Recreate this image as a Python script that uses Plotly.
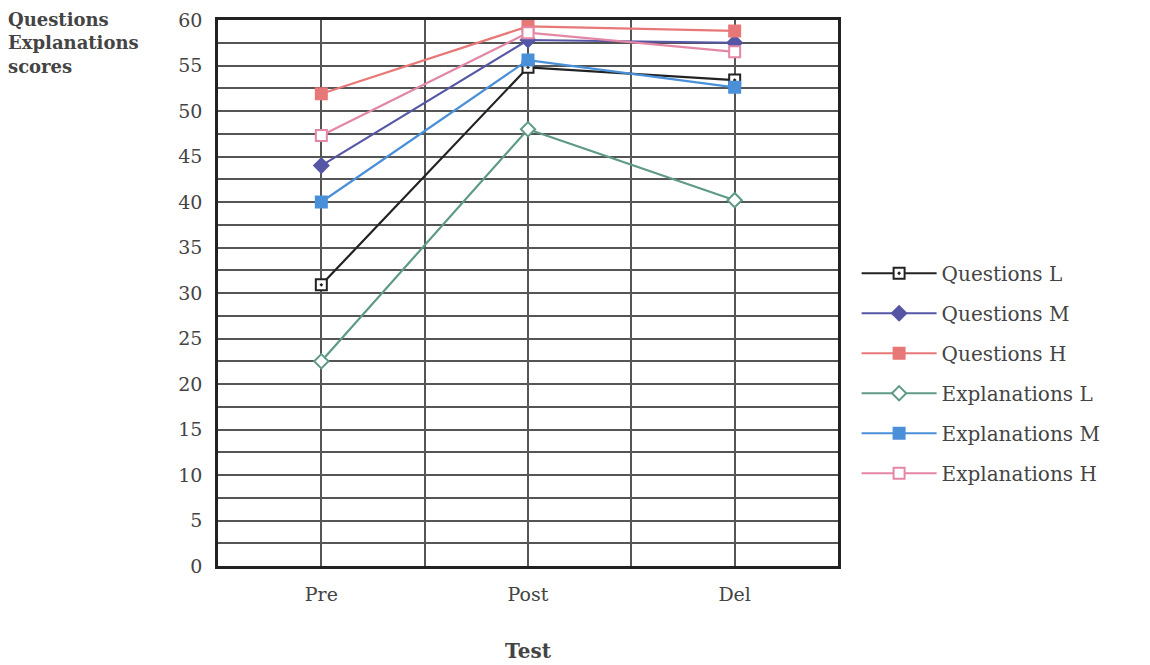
import plotly.graph_objects as go

tests = ["Pre", "Post", "Del"]
series_names = ["Questions L", "Questions M", "Questions H",
                "Explanations L", "Explanations M", "Explanations H"]
questions_l = [30.9, 54.8, 53.4]
questions_m = [44.0, 57.8, 57.5]
questions_h = [51.9, 59.3, 58.8]
explanations_l = [22.5, 48.0, 40.2]
explanations_m = [40.0, 55.6, 52.6]
explanations_h = [47.3, 58.6, 56.5]
y_ticks = [0, 5, 10, 15, 20, 25, 30, 35, 40, 45, 50, 55, 60]

values = [questions_l, questions_m, questions_h,
          explanations_l, explanations_m, explanations_h]
colors = ["#222222", "#5656a6", "#e87878", "#5f9a84", "#4a90d8", "#e486a6"]
symbols = ["square-dot", "diamond", "square", "diamond", "square", "square"]
fills = ["white", "#5656a6", "#e87878", "white", "#4a90d8", "white"]

FONT = "DejaVu Serif"
TXT = "#444444"

fig = go.Figure()
for i, (name, vals) in enumerate(zip(series_names, values)):
    fig.add_trace(go.Scatter(
        x=[0, 1, 2], y=vals, name=name, mode="lines+markers",
        legendgroup=name,
        line=dict(color=colors[i], width=2.2),
        marker=dict(symbol=symbols[i], size=11, color=fills[i],
                    line=dict(color=colors[i], width=2)),
    ))

fig.update_layout(
    width=1150, height=665,
    paper_bgcolor="white", plot_bgcolor="white",
    margin=dict(l=210, r=320, t=12, b=107),
    font=dict(family=FONT, size=19, color=TXT),
    showlegend=True,
    legend=dict(x=1.03, y=0.353, xanchor="left", yanchor="middle",
                traceorder="grouped", tracegroupgap=11, itemwidth=75,
                font=dict(family=FONT, size=20, color=TXT)),
    xaxis=dict(range=[-0.5, 2.5], tickvals=[0, 1, 2], ticktext=tests,
               automargin=False,
               showgrid=True, gridcolor="#555555", gridwidth=1.5,
               minor=dict(tickvals=[0.5, 1.5], showgrid=True,
                          gridcolor="#555555", gridwidth=1.5),
               showline=True, linecolor="#222222", linewidth=2.5, mirror=True,
               zeroline=False, ticks="", ticklabelstandoff=9,
               title=dict(text="<b>Test</b>", standoff=41,
                          font=dict(family=FONT, size=20, color=TXT))),
    yaxis=dict(range=[0, 60], tickvals=y_ticks, automargin=False,
               showgrid=True, gridcolor="#555555", gridwidth=1.5,
               minor=dict(dtick=2.5, tick0=0, showgrid=True,
                          gridcolor="#555555", gridwidth=1.5),
               showline=True, linecolor="#222222", linewidth=2.5, mirror=True,
               zeroline=False, ticks="", ticklabelstandoff=9),
)

fig.add_annotation(
    text="<b>Questions<br>Explanations<br>scores</b>",
    xref="paper", yref="paper", x=-212/620, y=1.0 + 13/546,
    xanchor="left", yanchor="top", align="left", showarrow=False,
    font=dict(family=FONT, size=18, color=TXT),
)

fig.write_html("out.html")
